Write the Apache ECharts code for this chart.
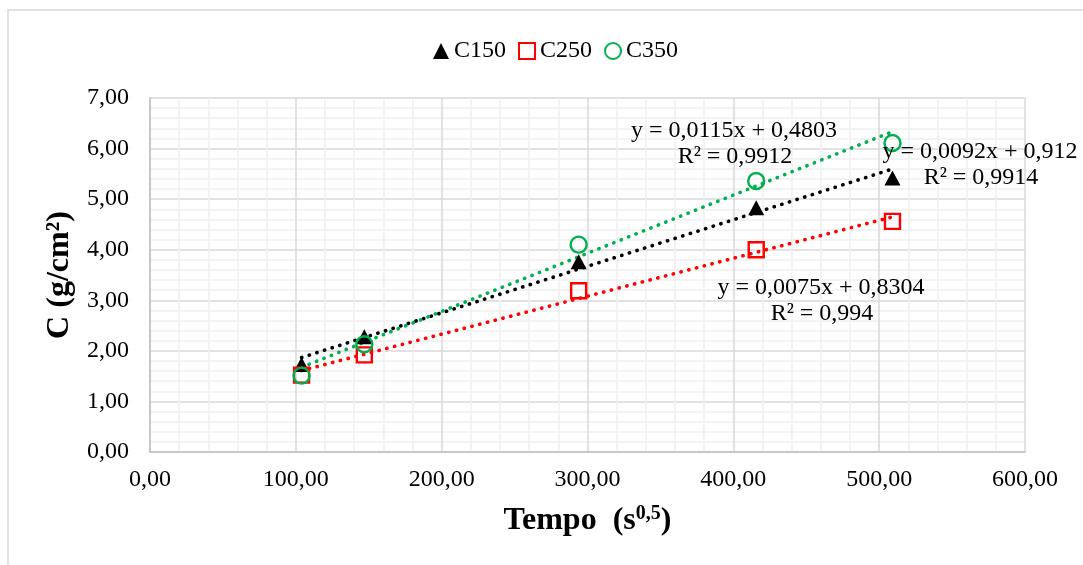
<!DOCTYPE html>
<html>
<head>
<meta charset="utf-8">
<script src="https://cdn.jsdelivr.net/npm/echarts@6/dist/echarts.min.js"></script>
<style>
html,body{margin:0;padding:0;background:#fff;}
#chart{width:1083px;height:565px;}
</style>
</head>
<body>
<div id="chart"></div>
<script>
// ---- data ----
const seriesNames = ['C150', 'C250', 'C350'];
const tempo = [103.92, 146.97, 293.94, 415.69, 509.12];
const c150 = [1.73, 2.28, 3.76, 4.83, 5.42];
const c250 = [1.52, 1.92, 3.19, 4.00, 4.56];
const c350 = [1.51, 2.13, 4.10, 5.36, 6.11];
const slopes = [0.0092, 0.0075, 0.0115];
const intercepts = [0.912, 0.8304, 0.4803];
const r2 = [0.9914, 0.994, 0.9912];

const FONT = "'Liberation Serif', 'Times New Roman', serif";
const colors = ['#000000', '#FF0000', '#00B050'];
const symbols = ['triangle', 'rect', 'circle'];
const values = [c150, c250, c350];

const comma = v => String(v).replace('.', ',');
const fmt2 = v => v.toFixed(2).replace('.', ',');

const chart = echarts.init(document.getElementById('chart'), null, {renderer: 'canvas'});

const series = [];
const xmin = Math.min(...tempo), xmax = Math.max(...tempo);
values.forEach((vals, i) => {
  series.push({
    name: seriesNames[i] + ' trend',
    type: 'line',
    data: [[xmin, slopes[i] * xmin + intercepts[i]], [xmax, slopes[i] * xmax + intercepts[i]]],
    showSymbol: false,
    symbol: 'none',
    silent: true,
    z: 2,
    lineStyle: {color: colors[i], width: 3.6, type: [0.3, 7.7], cap: 'round', opacity: 1}
  });
});
values.forEach((vals, i) => {
  const filled = i === 0;
  series.push({
    name: seriesNames[i],
    type: 'scatter',
    symbol: symbols[i],
    symbolSize: i === 0 ? [16, 15] : (i === 1 ? 15 : 16),
    data: tempo.map((t, k) => [t, vals[k]]),
    z: 3,
    itemStyle: filled ? {color: colors[i], opacity: 1}
      : {color: 'rgba(255,255,255,0)', borderColor: colors[i], borderWidth: 2.4, opacity: 1}
  });
});

// equation labels (centre positions in pixels)
const eqPos = [[980, 152], [821, 288], [734, 131]];
const graphic = [{
  type: 'rect', shape: {x: 8, y: 10, width: 1200, height: 700},
  style: {fill: 'none', stroke: '#d9d9d9', lineWidth: 1.5}, silent: true, z: -1
}];
values.forEach((v, i) => {
  graphic.push({
    type: 'text', x: eqPos[i][0], y: eqPos[i][1], z: 10,
    style: {text: 'y = ' + comma(slopes[i]) + 'x + ' + comma(intercepts[i]),
      font: '24px ' + FONT, fill: '#000', align: 'center', verticalAlign: 'middle'}
  });
  graphic.push({
    type: 'text', x: eqPos[i][0] + 1, y: eqPos[i][1] + 26, z: 10,
    style: {text: 'R² = ' + comma(r2[i]),
      font: '24px ' + FONT, fill: '#000', align: 'center', verticalAlign: 'middle'}
  });
});

const option = {
  backgroundColor: '#ffffff',
  animation: false,
  legend: {
    data: seriesNames,
    left: 428, top: 34,
    itemWidth: 16, itemHeight: 16, itemGap: 12,
    textStyle: {fontSize: 24, fontFamily: FONT, color: '#000'}
  },
  grid: {left: 150, right: 58, top: 98, bottom: 113, containLabel: false},
  xAxis: {
    type: 'value', min: 0, max: 600, interval: 100,
    axisLine: {show: true, lineStyle: {color: '#bfbfbf', width: 1.5}},
    axisTick: {show: false},
    axisLabel: {formatter: fmt2, fontSize: 24, fontFamily: FONT, color: '#000', margin: 16},
    splitLine: {show: true, lineStyle: {color: '#d9d9d9', width: 1.5}},
    minorTick: {show: false, splitNumber: 5},
    minorSplitLine: {show: true, lineStyle: {color: '#f0f0f0', width: 1.5}},
    name: '{a|Tempo  (s}{sup|0,5}{a|)}',
    nameLocation: 'middle', nameGap: 52,
    nameTextStyle: {
      rich: {
        a: {fontSize: 32, fontWeight: 'bold', fontFamily: FONT, color: '#000', lineHeight: 34},
        sup: {fontSize: 20, fontWeight: 'bold', fontFamily: FONT, color: '#000', verticalAlign: 'top', lineHeight: 34, padding: [0, 0, 12, 0]}
      }
    }
  },
  yAxis: {
    type: 'value', min: 0, max: 7, interval: 1,
    axisLine: {show: true, lineStyle: {color: '#bfbfbf', width: 1.5}},
    axisTick: {show: false},
    axisLabel: {formatter: fmt2, fontSize: 24, fontFamily: FONT, color: '#000', margin: 21},
    splitLine: {show: true, lineStyle: {color: '#d9d9d9', width: 1.5}},
    minorTick: {show: false, splitNumber: 5},
    minorSplitLine: {show: true, lineStyle: {color: '#f0f0f0', width: 1.5}},
    name: 'C (g/cm²)',
    nameLocation: 'middle', nameGap: 70,
    nameTextStyle: {fontSize: 32, fontWeight: 'bold', fontFamily: FONT, color: '#000'}
  },
  series: series,
  graphic: graphic
};
chart.setOption(option);
</script>
</body>
</html>
